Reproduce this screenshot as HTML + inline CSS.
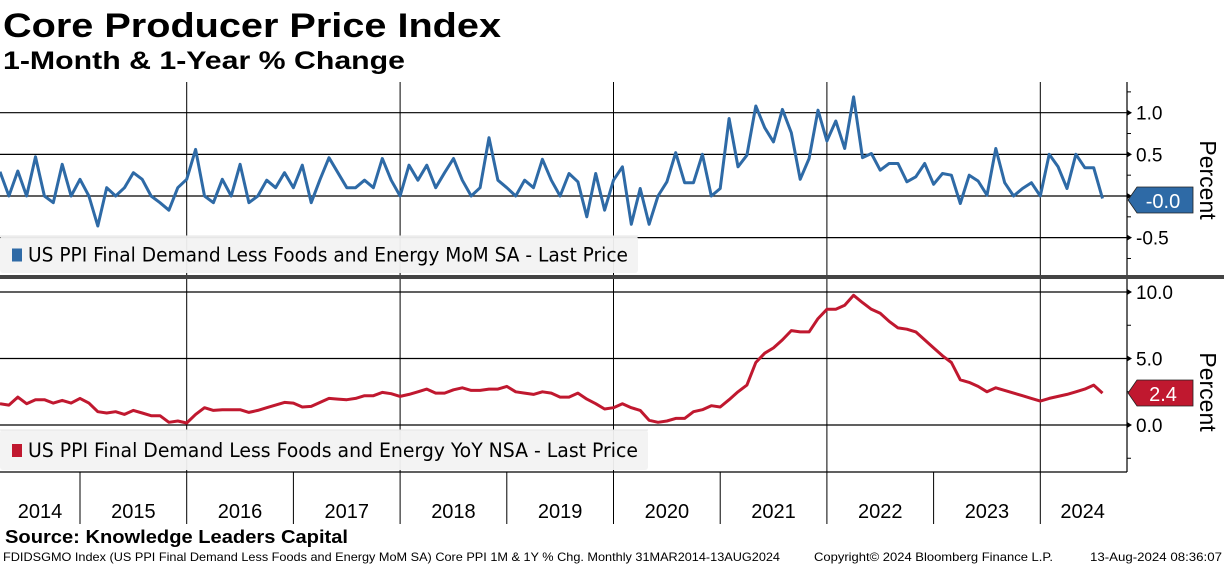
<!DOCTYPE html>
<html><head><meta charset="utf-8">
<style>
html,body{margin:0;padding:0;background:#fff;}
svg{display:block;font-family:"Liberation Sans","DejaVu Sans",sans-serif;}
</style></head>
<body>
<svg id="chart" width="1224" height="566" viewBox="0 0 1224 566" xmlns="http://www.w3.org/2000/svg">
  <text x="3" y="37" font-size="34" font-weight="bold" fill="#000" textLength="498" lengthAdjust="spacingAndGlyphs">Core Producer Price Index</text>
  <text x="3" y="69" font-size="25" font-weight="bold" fill="#000" textLength="402" lengthAdjust="spacingAndGlyphs">1-Month &amp; 1-Year % Change</text>
  <g id="top-panel"></g>
  <g id="bot-panel"></g>
  <rect x="0" y="275" width="1224" height="4" fill="#444"/>
  <g id="xaxis"></g>
  <text x="5" y="543" font-size="18" font-weight="bold" fill="#000" textLength="343" lengthAdjust="spacingAndGlyphs">Source: Knowledge Leaders Capital</text>
  <text x="3" y="561" font-size="12" fill="#000" textLength="777" lengthAdjust="spacingAndGlyphs">FDIDSGMO Index (US PPI Final Demand Less Foods and Energy MoM SA) Core PPI 1M &amp; 1Y % Chg.  Monthly 31MAR2014-13AUG2024</text>
  <text x="814" y="561" font-size="12" fill="#000" textLength="239" lengthAdjust="spacingAndGlyphs">Copyright© 2024 Bloomberg Finance L.P.</text>
  <text x="1090" y="561" font-size="12" fill="#000" textLength="132" lengthAdjust="spacingAndGlyphs">13-Aug-2024 08:36:07</text>
</svg>
<script>
const startYear = 2014;
const startMonth = 2; // March (0-based)
const momValues = [
 0.29,0,0.3,0,0.47,0,-0.08,0.38,0,0.2,
 0,-0.36,0.1,0,0.1,0.28,0.2,0,-0.08,-0.17,0.1,0.2,
 0.56,0,-0.08,0.2,0,0.38,-0.08,0,0.19,0.1,0.28,0.1,
 0.37,-0.08,0.2,0.46,0.28,0.1,0.1,0.19,0.1,0.45,0.19,0,
 0.37,0.19,0.37,0.1,0.28,0.45,0.19,0,0.1,0.7,0.19,0.1,
 0,0.19,0.1,0.44,0.19,0,0.27,0.17,-0.25,0.27,-0.17,0.19,
 0.35,-0.34,0.09,-0.34,0,0.17,0.52,0.16,0.16,0.5,0,0.09,
 0.93,0.35,0.49,1.08,0.82,0.65,1.04,0.76,0.2,0.45,1.03,0.66,
 0.9,0.57,1.19,0.46,0.51,0.31,0.39,0.39,0.17,0.23,0.39,0.14,
 0.27,0.25,-0.09,0.25,0.18,0.01,0.57,0.16,0,0.09,0.16,0,
 0.5,0.35,0.09,0.5,0.34,0.34,-0.03
];
const yoyValues = [
 1.6,1.5,2.1,1.6,1.9,1.9,1.65,1.85,1.65,2.0,
 1.65,1.0,0.9,1.0,0.8,1.1,0.9,0.7,0.7,0.2,0.3,0.15,
 0.8,1.3,1.1,1.15,1.15,1.15,0.95,1.1,1.3,1.5,1.7,1.65,
 1.35,1.4,1.7,2.0,1.95,1.9,2.0,2.2,2.2,2.45,2.35,2.15,
 2.3,2.5,2.7,2.4,2.4,2.65,2.8,2.6,2.6,2.7,2.7,2.9,
 2.5,2.4,2.3,2.5,2.4,2.1,2.1,2.4,1.95,1.6,1.2,1.3,
 1.6,1.3,1.1,0.35,0.2,0.3,0.5,0.5,1.0,1.15,1.45,1.35,
 1.9,2.5,3.0,4.7,5.4,5.8,6.4,7.1,7.0,7.0,8.0,8.7,
 8.7,9.0,9.75,9.2,8.7,8.4,7.8,7.3,7.2,7.0,6.4,5.8,
 5.2,4.7,3.4,3.2,2.9,2.5,2.8,2.6,2.4,2.2,2.0,1.8,
 2.0,2.15,2.3,2.5,2.7,3.0,2.4
];
const yearLabels = ["2014","2015","2016","2017","2018","2019","2020","2021","2022","2023","2024"];
const momTicks = [1.0,0.5,0.0,-0.5];
const momTickLabels = ["1.0","0.5","0.0","-0.5"];
const yoyTicks = [10,5,0];
const yoyTickLabels = ["10.0","5.0","0.0"];
const momLastLabel = "-0.0";
const yoyLastLabel = "2.4";

const NS = "http://www.w3.org/2000/svg";
const AXIS_X = 1127;
const YEAR_W = 106.7;
const X2015 = 80;
function xOfMonth(i){
  const m = startMonth + i;
  return X2015 - YEAR_W + (m + 1) * YEAR_W / 12;
}
function xOfYear(y){ return X2015 + (y - 2015) * YEAR_W; }
function yMom(v){ return 196 - v * 83.3; }
function yYoy(v){ return 425 - v * 13.3; }
function el(tag, attrs, parent){
  const e = document.createElementNS(NS, tag);
  for (const k in attrs) e.setAttribute(k, attrs[k]);
  parent.appendChild(e); return e;
}
const topG = document.getElementById('top-panel');
const botG = document.getElementById('bot-panel');
const xa = document.getElementById('xaxis');

function drawPanel(g, y0, y1, ticks, labels, yf, minorStep, minorMin, minorMax, legendText, legendY, legendW, color, values, lastLabel, boxY, name, titleY){
  const cp = el('clipPath', {id: name + '-clip'}, g);
  el('rect', {x:0, y:y0, width:AXIS_X, height:y1-y0}, cp);
  for (let y = 2016; y <= 2024; y += 2){
    const l = el('line', {x1:xOfYear(y), x2:xOfYear(y), y1:y0, y2:y1, stroke:'#000', 'stroke-width':1}, g);
    
    
  }
  ticks.forEach((t, i) => {
    const yy = yf(t);
    const l = el('line', {x1:0, x2:AXIS_X, y1:yy, y2:yy, stroke:'#000', 'stroke-width':1.2}, g);
    
    
    const a = el('path', {d:`M${AXIS_X} ${yy-3} L${AXIS_X+5} ${yy} L${AXIS_X} ${yy+3}Z`, fill:'#000'}, g);
    
    
    const tx = el('text', {x:AXIS_X+9, y:yy+7, 'font-size':19, fill:'#000'}, g);
    tx.textContent = labels[i];
    
    
  });
  for (let v = minorMin; v <= minorMax + 1e-9; v += minorStep){
    const yy = yf(v);
    const m = el('line', {x1:AXIS_X, x2:AXIS_X+4, y1:yy, y2:yy, stroke:'#000', 'stroke-width':1}, g);
    
    
  }
  const ax = el('line', {x1:AXIS_X, x2:AXIS_X, y1:y0, y2:y1, stroke:'#000', 'stroke-width':1.2}, g);
  
  
  const lb = el('g', {}, g);
  
  
  el('rect', {x:0, y:legendY, width:legendW, height:y1-legendY-2, rx:3, fill:'#f2f2f2', 'fill-opacity':0.95}, lb);
  el('line', {x1:0, x2:legendW, y1:legendY, y2:legendY, stroke:'#e4e4e4'}, lb);
  const sq = el('rect', {x:12, y:(legendY+y1)/2-7, width:10, height:13, fill:color}, lb);
  
  
  const lt = el('text', {x:28, y:(legendY+y1)/2+6, 'font-size':19.5, fill:'#000', 'font-family':'"DejaVu Sans Condensed","DejaVu Sans","Liberation Sans",sans-serif', textLength: legendW-38, lengthAdjust:'spacingAndGlyphs'}, lb);
  lt.textContent = legendText;
  
  
  const pts = values.map((v, i) => xOfMonth(i).toFixed(1) + ',' + yf(v).toFixed(1)).join(' ');
  const pl = el('polyline', {points:pts, fill:'none', stroke:color, 'stroke-width':3, 'stroke-linejoin':'round', 'clip-path':`url(#${name}-clip)`}, g);
  
  
  const lg = el('g', {}, g);
  
  
  el('path', {d:`M${AXIS_X+1} ${boxY+13} L${AXIS_X+10} ${boxY} L1193 ${boxY} L1193 ${boxY+26} L${AXIS_X+10} ${boxY+26}Z`, fill:color, stroke:'#222', 'stroke-width':0.8}, lg);
  const lv = el('text', {x:1163, y:boxY+21, 'font-size':20, fill:'#fff', 'text-anchor':'middle'}, lg);
  lv.textContent = lastLabel;
  const pt = el('text', {x:0, y:0, 'font-size':23, fill:'#000', 'text-anchor':'middle', transform:`translate(1200 ${titleY}) rotate(90)`}, g);
  pt.textContent = 'Percent';
  
  
}

drawPanel(topG, 82, 275, momTicks, momTickLabels, yMom, 0.25, -0.75, 1.25,
  'US PPI Final Demand Less Foods and Energy MoM SA - Last Price', 236, 638, '#2e6aa6',
  momValues, momLastLabel, 187, 'mom', 180);
drawPanel(botG, 279, 472, yoyTicks, yoyTickLabels, yYoy, 2.5, -2.5, 10,
  'US PPI Final Demand Less Foods and Energy YoY NSA - Last Price', 430, 648, '#c0182f',
  yoyValues, yoyLastLabel, 380, 'yoy', 392);

const bb = el('line', {x1:0, x2:AXIS_X, y1:472, y2:472, stroke:'#000', 'stroke-width':1.2}, xa);


for (let y = 2015; y <= 2024; y++){
  const l = el('line', {x1:xOfYear(y), x2:xOfYear(y), y1:472, y2:524, stroke:'#000', 'stroke-width':1}, xa);
  
  
}
yearLabels.forEach((lab, i) => {
  const yr = startYear + i;
  let x0 = Math.max(0, xOfYear(yr)), x1 = Math.min(AXIS_X - 20, xOfYear(yr + 1));
  if (yr === 2024) x1 = 1125;
  const t = el('text', {x:(x0 + x1) / 2, y:518, 'font-size':20, fill:'#000', 'text-anchor':'middle'}, xa);
  t.textContent = lab;
  
  
});
</script>
</body></html>
